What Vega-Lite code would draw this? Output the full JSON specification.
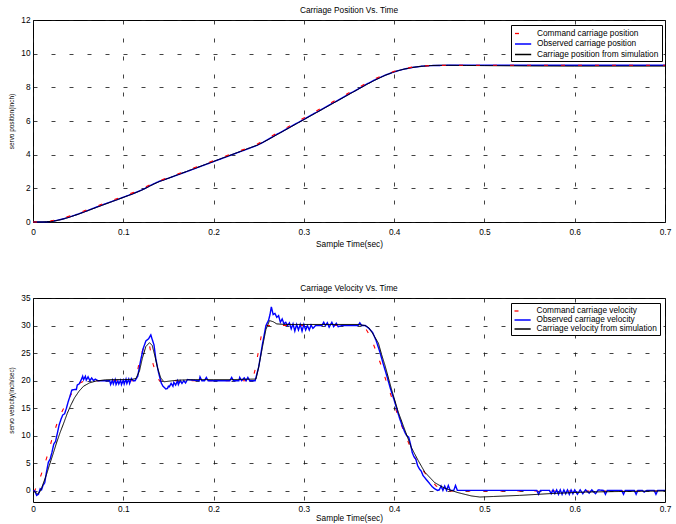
{
"$schema": "https://vega.github.io/schema/vega-lite/v6.json",
"background": "white",
"padding": {"left": 8, "top": 5, "right": 4, "bottom": 0},
"bounds": "flush",
"spacing": 76,
"config": {
  "font": "Liberation Sans",
  "view": {"stroke": "black", "strokeWidth": 1},
  "axis": {"grid": true, "gridColor": "#111111", "gridDash": [4, 14], "gridWidth": 0.8, "gridOpacity": 1, "domain": false, "ticks": false, "labelFont": "Liberation Sans", "labelFontSize": 8.3, "labelColor": "#000000", "titleFont": "Liberation Sans", "titleFontWeight": "normal", "titleColor": "#000000", "labelFlush": false},
  "axisX": {"labelPadding": 5, "titleFontSize": 8.3, "titlePadding": 4},
  "axisY": {"labelPadding": 3, "titleFontSize": 6.4, "titlePadding": 6},
  "title": {"fontSize": 8.3, "fontWeight": "normal", "font": "Liberation Sans", "offset": 1, "color": "#000000"},
  "legend": {"orient": "none", "legendX": 478, "legendY": 5, "strokeColor": "#000000", "fillColor": "white", "symbolType": "M-1,0H2.6", "symbolSize": 81, "symbolStrokeWidth": 1.3, "labelFont": "Liberation Sans", "labelFontSize": 8.3, "labelColor": "#000000", "labelOffset": 12, "labelLimit": 300, "cornerRadius": 0}
},
"resolve": {"scale": {"x": "independent", "y": "independent", "color": "independent", "strokeDash": "independent"}, "legend": {"color": "independent", "strokeDash": "independent"}},
"datasets": {
"pos": [
{"s":"sim","t":0,"v":0},{"s":"sim","t":0.01,"v":0},{"s":"sim","t":0.015,"v":0.01},{"s":"sim","t":0.02,"v":0.03},{"s":"sim","t":0.025,"v":0.07},{"s":"sim","t":0.03,"v":0.13},{"s":"sim","t":0.035,"v":0.2},{"s":"sim","t":0.04,"v":0.28},{"s":"sim","t":0.045,"v":0.37},{"s":"sim","t":0.05,"v":0.46},{"s":"sim","t":0.055,"v":0.56},{"s":"sim","t":0.06,"v":0.66},{"s":"sim","t":0.07,"v":0.86},{"s":"sim","t":0.08,"v":1.06},{"s":"sim","t":0.09,"v":1.26},{"s":"sim","t":0.1,"v":1.46},{"s":"sim","t":0.11,"v":1.66},{"s":"sim","t":0.115,"v":1.77},{"s":"sim","t":0.12,"v":1.88},{"s":"sim","t":0.125,"v":2.01},{"s":"sim","t":0.13,"v":2.15},{"s":"sim","t":0.135,"v":2.28},{"s":"sim","t":0.14,"v":2.4},{"s":"sim","t":0.145,"v":2.5},{"s":"sim","t":0.15,"v":2.6},{"s":"sim","t":0.16,"v":2.8},{"s":"sim","t":0.17,"v":3.0},{"s":"sim","t":0.18,"v":3.2},{"s":"sim","t":0.19,"v":3.4},{"s":"sim","t":0.2,"v":3.6},{"s":"sim","t":0.21,"v":3.8},{"s":"sim","t":0.22,"v":4.0},{"s":"sim","t":0.23,"v":4.2},{"s":"sim","t":0.24,"v":4.4},{"s":"sim","t":0.248,"v":4.56},{"s":"sim","t":0.255,"v":4.74},{"s":"sim","t":0.26,"v":4.88},{"s":"sim","t":0.27,"v":5.18},{"s":"sim","t":0.28,"v":5.48},{"s":"sim","t":0.29,"v":5.78},{"s":"sim","t":0.3,"v":6.08},{"s":"sim","t":0.31,"v":6.38},{"s":"sim","t":0.32,"v":6.68},{"s":"sim","t":0.33,"v":6.98},{"s":"sim","t":0.34,"v":7.28},{"s":"sim","t":0.35,"v":7.58},{"s":"sim","t":0.36,"v":7.88},{"s":"sim","t":0.37,"v":8.18},{"s":"sim","t":0.38,"v":8.46},{"s":"sim","t":0.39,"v":8.71},{"s":"sim","t":0.4,"v":8.92},{"s":"sim","t":0.41,"v":9.07},{"s":"sim","t":0.42,"v":9.18},{"s":"sim","t":0.43,"v":9.25},{"s":"sim","t":0.44,"v":9.29},{"s":"sim","t":0.45,"v":9.31},{"s":"sim","t":0.46,"v":9.31},{"s":"sim","t":0.48,"v":9.3},{"s":"sim","t":0.5,"v":9.29},{"s":"sim","t":0.55,"v":9.27},{"s":"sim","t":0.6,"v":9.26},{"s":"sim","t":0.65,"v":9.26},{"s":"sim","t":0.7,"v":9.26},
{"s":"obs","t":0,"v":0},{"s":"obs","t":0.01,"v":0},{"s":"obs","t":0.015,"v":0.01},{"s":"obs","t":0.02,"v":0.03},{"s":"obs","t":0.025,"v":0.08},{"s":"obs","t":0.03,"v":0.14},{"s":"obs","t":0.035,"v":0.21},{"s":"obs","t":0.04,"v":0.29},{"s":"obs","t":0.045,"v":0.38},{"s":"obs","t":0.05,"v":0.47},{"s":"obs","t":0.055,"v":0.57},{"s":"obs","t":0.06,"v":0.67},{"s":"obs","t":0.07,"v":0.88},{"s":"obs","t":0.08,"v":1.08},{"s":"obs","t":0.09,"v":1.27},{"s":"obs","t":0.1,"v":1.47},{"s":"obs","t":0.11,"v":1.67},{"s":"obs","t":0.115,"v":1.78},{"s":"obs","t":0.12,"v":1.89},{"s":"obs","t":0.125,"v":2.02},{"s":"obs","t":0.13,"v":2.17},{"s":"obs","t":0.135,"v":2.3},{"s":"obs","t":0.14,"v":2.42},{"s":"obs","t":0.145,"v":2.51},{"s":"obs","t":0.15,"v":2.6},{"s":"obs","t":0.16,"v":2.8},{"s":"obs","t":0.17,"v":2.99},{"s":"obs","t":0.18,"v":3.19},{"s":"obs","t":0.19,"v":3.39},{"s":"obs","t":0.2,"v":3.59},{"s":"obs","t":0.21,"v":3.79},{"s":"obs","t":0.22,"v":3.99},{"s":"obs","t":0.23,"v":4.19},{"s":"obs","t":0.24,"v":4.39},{"s":"obs","t":0.248,"v":4.55},{"s":"obs","t":0.255,"v":4.74},{"s":"obs","t":0.26,"v":4.89},{"s":"obs","t":0.27,"v":5.2},{"s":"obs","t":0.28,"v":5.5},{"s":"obs","t":0.29,"v":5.8},{"s":"obs","t":0.3,"v":6.1},{"s":"obs","t":0.31,"v":6.4},{"s":"obs","t":0.32,"v":6.7},{"s":"obs","t":0.33,"v":7.0},{"s":"obs","t":0.34,"v":7.3},{"s":"obs","t":0.35,"v":7.6},{"s":"obs","t":0.36,"v":7.9},{"s":"obs","t":0.37,"v":8.2},{"s":"obs","t":0.38,"v":8.48},{"s":"obs","t":0.39,"v":8.72},{"s":"obs","t":0.4,"v":8.92},{"s":"obs","t":0.41,"v":9.07},{"s":"obs","t":0.42,"v":9.18},{"s":"obs","t":0.43,"v":9.25},{"s":"obs","t":0.44,"v":9.29},{"s":"obs","t":0.45,"v":9.3},{"s":"obs","t":0.46,"v":9.31},{"s":"obs","t":0.5,"v":9.31},{"s":"obs","t":0.6,"v":9.31},{"s":"obs","t":0.7,"v":9.31},
{"s":"cmd","t":0,"v":0},{"s":"cmd","t":0.01,"v":0.01},{"s":"cmd","t":0.015,"v":0.03},{"s":"cmd","t":0.02,"v":0.07},{"s":"cmd","t":0.025,"v":0.12},{"s":"cmd","t":0.03,"v":0.19},{"s":"cmd","t":0.035,"v":0.27},{"s":"cmd","t":0.04,"v":0.35},{"s":"cmd","t":0.045,"v":0.44},{"s":"cmd","t":0.05,"v":0.54},{"s":"cmd","t":0.055,"v":0.63},{"s":"cmd","t":0.06,"v":0.73},{"s":"cmd","t":0.07,"v":0.93},{"s":"cmd","t":0.08,"v":1.13},{"s":"cmd","t":0.09,"v":1.33},{"s":"cmd","t":0.1,"v":1.53},{"s":"cmd","t":0.11,"v":1.73},{"s":"cmd","t":0.115,"v":1.84},{"s":"cmd","t":0.12,"v":1.96},{"s":"cmd","t":0.125,"v":2.09},{"s":"cmd","t":0.13,"v":2.22},{"s":"cmd","t":0.135,"v":2.34},{"s":"cmd","t":0.14,"v":2.45},{"s":"cmd","t":0.145,"v":2.55},{"s":"cmd","t":0.15,"v":2.65},{"s":"cmd","t":0.16,"v":2.85},{"s":"cmd","t":0.17,"v":3.05},{"s":"cmd","t":0.18,"v":3.25},{"s":"cmd","t":0.19,"v":3.45},{"s":"cmd","t":0.2,"v":3.65},{"s":"cmd","t":0.21,"v":3.85},{"s":"cmd","t":0.22,"v":4.05},{"s":"cmd","t":0.23,"v":4.25},{"s":"cmd","t":0.24,"v":4.45},{"s":"cmd","t":0.248,"v":4.62},{"s":"cmd","t":0.255,"v":4.83},{"s":"cmd","t":0.26,"v":4.98},{"s":"cmd","t":0.27,"v":5.28},{"s":"cmd","t":0.28,"v":5.58},{"s":"cmd","t":0.29,"v":5.88},{"s":"cmd","t":0.3,"v":6.18},{"s":"cmd","t":0.31,"v":6.48},{"s":"cmd","t":0.32,"v":6.78},{"s":"cmd","t":0.33,"v":7.08},{"s":"cmd","t":0.34,"v":7.38},{"s":"cmd","t":0.35,"v":7.68},{"s":"cmd","t":0.36,"v":7.98},{"s":"cmd","t":0.37,"v":8.27},{"s":"cmd","t":0.38,"v":8.54},{"s":"cmd","t":0.39,"v":8.76},{"s":"cmd","t":0.4,"v":8.95},{"s":"cmd","t":0.41,"v":9.1},{"s":"cmd","t":0.42,"v":9.2},{"s":"cmd","t":0.43,"v":9.26},{"s":"cmd","t":0.44,"v":9.29},{"s":"cmd","t":0.45,"v":9.3},{"s":"cmd","t":0.46,"v":9.31},{"s":"cmd","t":0.5,"v":9.31},{"s":"cmd","t":0.6,"v":9.31},{"s":"cmd","t":0.7,"v":9.31}
],
"vel": [
{"s":"cmd","t":0,"v":0},{"s":"cmd","t":0.002,"v":0.1},{"s":"cmd","t":0.004,"v":0.8},{"s":"cmd","t":0.007,"v":2.0},{"s":"cmd","t":0.01,"v":3.4},{"s":"cmd","t":0.0165,"v":6.7},{"s":"cmd","t":0.022,"v":10.0},{"s":"cmd","t":0.029,"v":13.4},{"s":"cmd","t":0.0386,"v":16.5},{"s":"cmd","t":0.044,"v":18.0},{"s":"cmd","t":0.048,"v":19.0},{"s":"cmd","t":0.052,"v":19.6},{"s":"cmd","t":0.056,"v":19.9},{"s":"cmd","t":0.06,"v":20.0},{"s":"cmd","t":0.113,"v":20.0},{"s":"cmd","t":0.115,"v":21.0},{"s":"cmd","t":0.118,"v":23.8},{"s":"cmd","t":0.122,"v":25.8},{"s":"cmd","t":0.125,"v":26.7},{"s":"cmd","t":0.127,"v":27.0},{"s":"cmd","t":0.129,"v":26.4},{"s":"cmd","t":0.133,"v":23.0},{"s":"cmd","t":0.137,"v":21.0},{"s":"cmd","t":0.14,"v":20.0},{"s":"cmd","t":0.243,"v":20.0},{"s":"cmd","t":0.246,"v":22.0},{"s":"cmd","t":0.249,"v":24.7},{"s":"cmd","t":0.253,"v":28.3},{"s":"cmd","t":0.256,"v":30.0},{"s":"cmd","t":0.365,"v":30.0},{"s":"cmd","t":0.369,"v":29.3},{"s":"cmd","t":0.373,"v":28.2},{"s":"cmd","t":0.378,"v":26.2},{"s":"cmd","t":0.3856,"v":22.8},{"s":"cmd","t":0.392,"v":19.5},{"s":"cmd","t":0.3985,"v":16.4},{"s":"cmd","t":0.406,"v":12.8},{"s":"cmd","t":0.415,"v":9.1},{"s":"cmd","t":0.4225,"v":6.1},{"s":"cmd","t":0.4336,"v":3.35},{"s":"cmd","t":0.4466,"v":0.9},{"s":"cmd","t":0.455,"v":0.2},{"s":"cmd","t":0.461,"v":0},{"s":"cmd","t":0.7,"v":0},
{"s":"sim","t":0,"v":0},{"s":"sim","t":0.003,"v":-0.3},{"s":"sim","t":0.005,"v":-0.5},{"s":"sim","t":0.007,"v":-0.3},{"s":"sim","t":0.009,"v":0.3},{"s":"sim","t":0.011,"v":1.2},{"s":"sim","t":0.015,"v":3.0},{"s":"sim","t":0.018,"v":4.6},{"s":"sim","t":0.022,"v":6.6},{"s":"sim","t":0.026,"v":8.7},{"s":"sim","t":0.03,"v":10.6},{"s":"sim","t":0.034,"v":12.3},{"s":"sim","t":0.038,"v":14.1},{"s":"sim","t":0.042,"v":15.6},{"s":"sim","t":0.046,"v":16.9},{"s":"sim","t":0.051,"v":18.1},{"s":"sim","t":0.056,"v":19.0},{"s":"sim","t":0.0625,"v":19.6},{"s":"sim","t":0.07,"v":19.95},{"s":"sim","t":0.08,"v":20.15},{"s":"sim","t":0.09,"v":20.2},{"s":"sim","t":0.1,"v":20.2},{"s":"sim","t":0.11,"v":20.25},{"s":"sim","t":0.114,"v":20.4},{"s":"sim","t":0.118,"v":21.8},{"s":"sim","t":0.121,"v":24.0},{"s":"sim","t":0.125,"v":26.2},{"s":"sim","t":0.129,"v":26.9},{"s":"sim","t":0.132,"v":26.4},{"s":"sim","t":0.135,"v":24.5},{"s":"sim","t":0.138,"v":22.3},{"s":"sim","t":0.1415,"v":20.5},{"s":"sim","t":0.145,"v":19.8},{"s":"sim","t":0.15,"v":19.9},{"s":"sim","t":0.16,"v":20.1},{"s":"sim","t":0.18,"v":20.2},{"s":"sim","t":0.2,"v":20.2},{"s":"sim","t":0.22,"v":20.2},{"s":"sim","t":0.247,"v":20.3},{"s":"sim","t":0.25,"v":22.5},{"s":"sim","t":0.254,"v":26.0},{"s":"sim","t":0.258,"v":29.3},{"s":"sim","t":0.262,"v":30.9},{"s":"sim","t":0.266,"v":30.7},{"s":"sim","t":0.27,"v":30.3},{"s":"sim","t":0.28,"v":30.2},{"s":"sim","t":0.3,"v":30.2},{"s":"sim","t":0.34,"v":30.2},{"s":"sim","t":0.36,"v":30.2},{"s":"sim","t":0.368,"v":30.0},{"s":"sim","t":0.372,"v":29.6},{"s":"sim","t":0.3765,"v":28.5},{"s":"sim","t":0.3826,"v":26.8},{"s":"sim","t":0.386,"v":24.8},{"s":"sim","t":0.39,"v":22.7},{"s":"sim","t":0.397,"v":18.5},{"s":"sim","t":0.4046,"v":14.3},{"s":"sim","t":0.412,"v":11.0},{"s":"sim","t":0.419,"v":7.9},{"s":"sim","t":0.4267,"v":5.5},{"s":"sim","t":0.434,"v":3.4},{"s":"sim","t":0.445,"v":1.5},{"s":"sim","t":0.456,"v":0.5},{"s":"sim","t":0.4707,"v":-0.3},{"s":"sim","t":0.4855,"v":-0.9},{"s":"sim","t":0.495,"v":-1.1},{"s":"sim","t":0.51,"v":-1.0},{"s":"sim","t":0.539,"v":-0.8},{"s":"sim","t":0.576,"v":-0.45},{"s":"sim","t":0.612,"v":-0.2},{"s":"sim","t":0.649,"v":-0.1},{"s":"sim","t":0.7,"v":0},
{"s":"obs","t":0,"v":0},{"s":"obs","t":0.002,"v":0},{"s":"obs","t":0.004,"v":-0.8},{"s":"obs","t":0.006,"v":-0.6},{"s":"obs","t":0.008,"v":0.4},{"s":"obs","t":0.0095,"v":0.2},{"s":"obs","t":0.011,"v":1.0},{"s":"obs","t":0.013,"v":1.5},{"s":"obs","t":0.015,"v":3.5},{"s":"obs","t":0.017,"v":5.2},{"s":"obs","t":0.019,"v":5.8},{"s":"obs","t":0.021,"v":7.0},{"s":"obs","t":0.023,"v":8.5},{"s":"obs","t":0.025,"v":9.0},{"s":"obs","t":0.027,"v":10.5},{"s":"obs","t":0.029,"v":12.0},{"s":"obs","t":0.031,"v":13.0},{"s":"obs","t":0.033,"v":13.8},{"s":"obs","t":0.035,"v":14.0},{"s":"obs","t":0.037,"v":15.0},{"s":"obs","t":0.039,"v":16.2},{"s":"obs","t":0.041,"v":17.2},{"s":"obs","t":0.043,"v":18.3},{"s":"obs","t":0.046,"v":18.4},{"s":"obs","t":0.048,"v":18.4},{"s":"obs","t":0.049,"v":19.2},{"s":"obs","t":0.051,"v":19.4},{"s":"obs","t":0.053,"v":20.0},{"s":"obs","t":0.055,"v":20.8},{"s":"obs","t":0.056,"v":20.2},{"s":"obs","t":0.058,"v":20.8},{"s":"obs","t":0.059,"v":20.1},{"s":"obs","t":0.061,"v":20.7},{"s":"obs","t":0.063,"v":20.0},{"s":"obs","t":0.065,"v":20.5},{"s":"obs","t":0.067,"v":20.0},{"s":"obs","t":0.069,"v":20.3},{"s":"obs","t":0.072,"v":20.0},{"s":"obs","t":0.085,"v":20.0},{"s":"obs","t":0.086,"v":19.3},{"s":"obs","t":0.088,"v":20.1},{"s":"obs","t":0.089,"v":19.4},{"s":"obs","t":0.091,"v":20.2},{"s":"obs","t":0.092,"v":19.3},{"s":"obs","t":0.094,"v":20.0},{"s":"obs","t":0.095,"v":19.4},{"s":"obs","t":0.097,"v":20.1},{"s":"obs","t":0.098,"v":19.3},{"s":"obs","t":0.1,"v":20.1},{"s":"obs","t":0.101,"v":19.4},{"s":"obs","t":0.103,"v":20.3},{"s":"obs","t":0.104,"v":19.5},{"s":"obs","t":0.106,"v":20.3},{"s":"obs","t":0.107,"v":19.5},{"s":"obs","t":0.109,"v":20.4},{"s":"obs","t":0.111,"v":20.0},{"s":"obs","t":0.113,"v":20.0},{"s":"obs","t":0.116,"v":20.8},{"s":"obs","t":0.119,"v":23.5},{"s":"obs","t":0.122,"v":25.8},{"s":"obs","t":0.125,"v":27.2},{"s":"obs","t":0.128,"v":27.6},{"s":"obs","t":0.1305,"v":28.3},{"s":"obs","t":0.132,"v":27.5},{"s":"obs","t":0.134,"v":26.5},{"s":"obs","t":0.136,"v":24.0},{"s":"obs","t":0.139,"v":21.5},{"s":"obs","t":0.142,"v":19.6},{"s":"obs","t":0.144,"v":19.0},{"s":"obs","t":0.146,"v":18.7},{"s":"obs","t":0.147,"v":18.5},{"s":"obs","t":0.149,"v":18.6},{"s":"obs","t":0.15,"v":19.0},{"s":"obs","t":0.151,"v":18.9},{"s":"obs","t":0.153,"v":19.5},{"s":"obs","t":0.155,"v":19.0},{"s":"obs","t":0.156,"v":19.7},{"s":"obs","t":0.158,"v":19.2},{"s":"obs","t":0.16,"v":20.0},{"s":"obs","t":0.161,"v":19.3},{"s":"obs","t":0.163,"v":20.0},{"s":"obs","t":0.165,"v":19.5},{"s":"obs","t":0.167,"v":20.0},{"s":"obs","t":0.169,"v":19.6},{"s":"obs","t":0.171,"v":20.2},{"s":"obs","t":0.184,"v":20.0},{"s":"obs","t":0.185,"v":20.7},{"s":"obs","t":0.187,"v":20.0},{"s":"obs","t":0.19,"v":20.0},{"s":"obs","t":0.192,"v":20.6},{"s":"obs","t":0.194,"v":20.0},{"s":"obs","t":0.218,"v":20.0},{"s":"obs","t":0.22,"v":20.6},{"s":"obs","t":0.222,"v":20.0},{"s":"obs","t":0.228,"v":20.0},{"s":"obs","t":0.229,"v":20.6},{"s":"obs","t":0.231,"v":20.0},{"s":"obs","t":0.234,"v":20.5},{"s":"obs","t":0.236,"v":20.0},{"s":"obs","t":0.238,"v":20.6},{"s":"obs","t":0.24,"v":20.0},{"s":"obs","t":0.246,"v":20.0},{"s":"obs","t":0.25,"v":22.5},{"s":"obs","t":0.254,"v":26.5},{"s":"obs","t":0.258,"v":30.0},{"s":"obs","t":0.261,"v":31.0},{"s":"obs","t":0.2625,"v":32.0},{"s":"obs","t":0.264,"v":33.4},{"s":"obs","t":0.266,"v":32.0},{"s":"obs","t":0.268,"v":32.2},{"s":"obs","t":0.27,"v":31.5},{"s":"obs","t":0.272,"v":31.8},{"s":"obs","t":0.274,"v":30.6},{"s":"obs","t":0.276,"v":31.2},{"s":"obs","t":0.278,"v":30.3},{"s":"obs","t":0.28,"v":30.6},{"s":"obs","t":0.282,"v":30.0},{"s":"obs","t":0.284,"v":30.5},{"s":"obs","t":0.286,"v":29.4},{"s":"obs","t":0.288,"v":30.3},{"s":"obs","t":0.29,"v":29.0},{"s":"obs","t":0.292,"v":30.2},{"s":"obs","t":0.294,"v":29.2},{"s":"obs","t":0.296,"v":30.2},{"s":"obs","t":0.298,"v":29.0},{"s":"obs","t":0.3,"v":30.2},{"s":"obs","t":0.302,"v":29.2},{"s":"obs","t":0.304,"v":30.0},{"s":"obs","t":0.306,"v":29.2},{"s":"obs","t":0.308,"v":30.1},{"s":"obs","t":0.31,"v":29.5},{"s":"obs","t":0.313,"v":30.0},{"s":"obs","t":0.32,"v":30.0},{"s":"obs","t":0.322,"v":30.6},{"s":"obs","t":0.324,"v":30.0},{"s":"obs","t":0.326,"v":30.5},{"s":"obs","t":0.328,"v":29.7},{"s":"obs","t":0.331,"v":30.6},{"s":"obs","t":0.333,"v":29.8},{"s":"obs","t":0.336,"v":30.4},{"s":"obs","t":0.338,"v":29.8},{"s":"obs","t":0.342,"v":30.0},{"s":"obs","t":0.36,"v":30.0},{"s":"obs","t":0.362,"v":30.5},{"s":"obs","t":0.364,"v":30.0},{"s":"obs","t":0.368,"v":30.0},{"s":"obs","t":0.372,"v":29.5},{"s":"obs","t":0.376,"v":28.8},{"s":"obs","t":0.38,"v":27.3},{"s":"obs","t":0.384,"v":25.3},{"s":"obs","t":0.388,"v":23.0},{"s":"obs","t":0.392,"v":20.8},{"s":"obs","t":0.396,"v":18.5},{"s":"obs","t":0.4,"v":16.5},{"s":"obs","t":0.403,"v":14.8},{"s":"obs","t":0.406,"v":13.2},{"s":"obs","t":0.409,"v":11.8},{"s":"obs","t":0.412,"v":10.6},{"s":"obs","t":0.414,"v":10.0},{"s":"obs","t":0.416,"v":9.8},{"s":"obs","t":0.418,"v":8.6},{"s":"obs","t":0.42,"v":7.0},{"s":"obs","t":0.422,"v":6.2},{"s":"obs","t":0.424,"v":5.8},{"s":"obs","t":0.426,"v":4.6},{"s":"obs","t":0.428,"v":4.0},{"s":"obs","t":0.43,"v":3.6},{"s":"obs","t":0.432,"v":2.8},{"s":"obs","t":0.434,"v":2.4},{"s":"obs","t":0.436,"v":2.0},{"s":"obs","t":0.438,"v":1.6},{"s":"obs","t":0.44,"v":1.2},{"s":"obs","t":0.442,"v":0.8},{"s":"obs","t":0.444,"v":0.5},{"s":"obs","t":0.446,"v":0.3},{"s":"obs","t":0.448,"v":0.1},{"s":"obs","t":0.45,"v":0.2},{"s":"obs","t":0.452,"v":0.9},{"s":"obs","t":0.454,"v":0.1},{"s":"obs","t":0.456,"v":0.9},{"s":"obs","t":0.458,"v":0.1},{"s":"obs","t":0.46,"v":1.0},{"s":"obs","t":0.462,"v":0.1},{"s":"obs","t":0.466,"v":0.1},{"s":"obs","t":0.468,"v":1.0},{"s":"obs","t":0.47,"v":0.1},{"s":"obs","t":0.558,"v":0.1},{"s":"obs","t":0.56,"v":-0.6},{"s":"obs","t":0.562,"v":0.1},{"s":"obs","t":0.572,"v":0.1},{"s":"obs","t":0.574,"v":-0.5},{"s":"obs","t":0.576,"v":0.2},{"s":"obs","t":0.578,"v":-0.5},{"s":"obs","t":0.58,"v":0.2},{"s":"obs","t":0.582,"v":-0.6},{"s":"obs","t":0.584,"v":0.2},{"s":"obs","t":0.586,"v":-0.6},{"s":"obs","t":0.588,"v":0.2},{"s":"obs","t":0.59,"v":-0.5},{"s":"obs","t":0.592,"v":0.2},{"s":"obs","t":0.594,"v":-0.6},{"s":"obs","t":0.596,"v":0.2},{"s":"obs","t":0.598,"v":-0.5},{"s":"obs","t":0.6,"v":0.2},{"s":"obs","t":0.603,"v":-0.6},{"s":"obs","t":0.606,"v":0.2},{"s":"obs","t":0.609,"v":-0.5},{"s":"obs","t":0.612,"v":0.2},{"s":"obs","t":0.616,"v":-0.4},{"s":"obs","t":0.619,"v":0.2},{"s":"obs","t":0.623,"v":-0.5},{"s":"obs","t":0.626,"v":0.2},{"s":"obs","t":0.632,"v":0.1},{"s":"obs","t":0.634,"v":-0.6},{"s":"obs","t":0.636,"v":0.1},{"s":"obs","t":0.652,"v":0.1},{"s":"obs","t":0.654,"v":-0.6},{"s":"obs","t":0.656,"v":0.1},{"s":"obs","t":0.666,"v":0.1},{"s":"obs","t":0.668,"v":-0.6},{"s":"obs","t":0.67,"v":0.1},{"s":"obs","t":0.675,"v":0.1},{"s":"obs","t":0.677,"v":-0.2},{"s":"obs","t":0.68,"v":0.1},{"s":"obs","t":0.688,"v":0.1},{"s":"obs","t":0.69,"v":-0.6},{"s":"obs","t":0.692,"v":0.1},{"s":"obs","t":0.7,"v":0.1}
]
},
"vconcat": [
{
  "width": 632, "height": 202,
  "title": "Carriage Position Vs. Time",
  "data": {"name": "pos"},
  "encoding": {
    "x": {"field": "t", "type": "quantitative", "scale": {"domain": [0, 0.7], "nice": false, "zero": false}, "axis": {"values": [0, 0.1, 0.2, 0.3, 0.4, 0.5, 0.6, 0.7], "format": ".1~f", "title": "Sample Time(sec)"}},
    "y": {"field": "v", "type": "quantitative", "scale": {"domain": [0, 12], "nice": false}, "axis": {"values": [0, 2, 4, 6, 8, 10, 12], "title": "servo position(inch)"}},
    "color": {"field": "s", "type": "nominal", "scale": {"domain": ["cmd", "obs", "sim"], "range": ["#ff0000", "#0000ff", "#000000"]}, "legend": {"title": null, "padding": 3, "rowPadding": 1.5, "labelExpr": "datum.label == 'cmd' ? 'Command carriage position' : datum.label == 'obs' ? 'Observed carriage position' : 'Carriage position from simulation'"}},
    "strokeDash": {"field": "s", "type": "nominal", "scale": {"domain": ["cmd", "obs", "sim"], "range": [[4, 13], [1, 0], [1, 0]]}, "legend": {"title": null, "padding": 3, "rowPadding": 1.5, "labelExpr": "datum.label == 'cmd' ? 'Command carriage position' : datum.label == 'obs' ? 'Observed carriage position' : 'Carriage position from simulation'"}}
  },
  "layer": [
    {"transform": [{"filter": "datum.s == 'obs'"}], "mark": {"type": "line", "strokeWidth": 1.4}},
    {"transform": [{"filter": "datum.s == 'sim'"}], "mark": {"type": "line", "strokeWidth": 1}},
    {"transform": [{"filter": "datum.s == 'cmd'"}], "mark": {"type": "line", "strokeWidth": 1.1}}
  ]
},
{
  "width": 632, "height": 204,
  "title": "Carriage Velocity Vs. Time",
  "data": {"name": "vel"},
  "encoding": {
    "x": {"field": "t", "type": "quantitative", "scale": {"domain": [0, 0.7], "nice": false, "zero": false}, "axis": {"values": [0, 0.1, 0.2, 0.3, 0.4, 0.5, 0.6, 0.7], "format": ".1~f", "title": "Sample Time(sec)", "labelPadding": 2, "titlePadding": 1}},
    "y": {"field": "v", "type": "quantitative", "scale": {"domain": [-2, 35], "nice": false, "zero": false}, "axis": {"values": [0, 5, 10, 15, 20, 25, 30, 35], "title": "servo velocity(inch/sec)"}},
    "color": {"field": "s", "type": "nominal", "scale": {"domain": ["cmd", "obs", "sim"], "range": ["#ff0000", "#0000ff", "#000000"]}, "legend": {"title": null, "padding": 2.5, "rowPadding": 0, "labelExpr": "datum.label == 'cmd' ? 'Command carriage velocity' : datum.label == 'obs' ? 'Observed carriage velocity' : 'Carriage velocity from simulation'"}},
    "strokeDash": {"field": "s", "type": "nominal", "scale": {"domain": ["cmd", "obs", "sim"], "range": [[4, 13], [1, 0], [1, 0]]}, "legend": {"title": null, "padding": 2.5, "rowPadding": 0, "labelExpr": "datum.label == 'cmd' ? 'Command carriage velocity' : datum.label == 'obs' ? 'Observed carriage velocity' : 'Carriage velocity from simulation'"}}
  },
  "layer": [
    {"transform": [{"filter": "datum.s == 'cmd'"}], "mark": {"type": "line", "strokeWidth": 1.1}},
    {"transform": [{"filter": "datum.s == 'obs'"}], "mark": {"type": "line", "strokeWidth": 1.4}},
    {"transform": [{"filter": "datum.s == 'sim'"}], "mark": {"type": "line", "strokeWidth": 1}}
  ]
}
]
}
